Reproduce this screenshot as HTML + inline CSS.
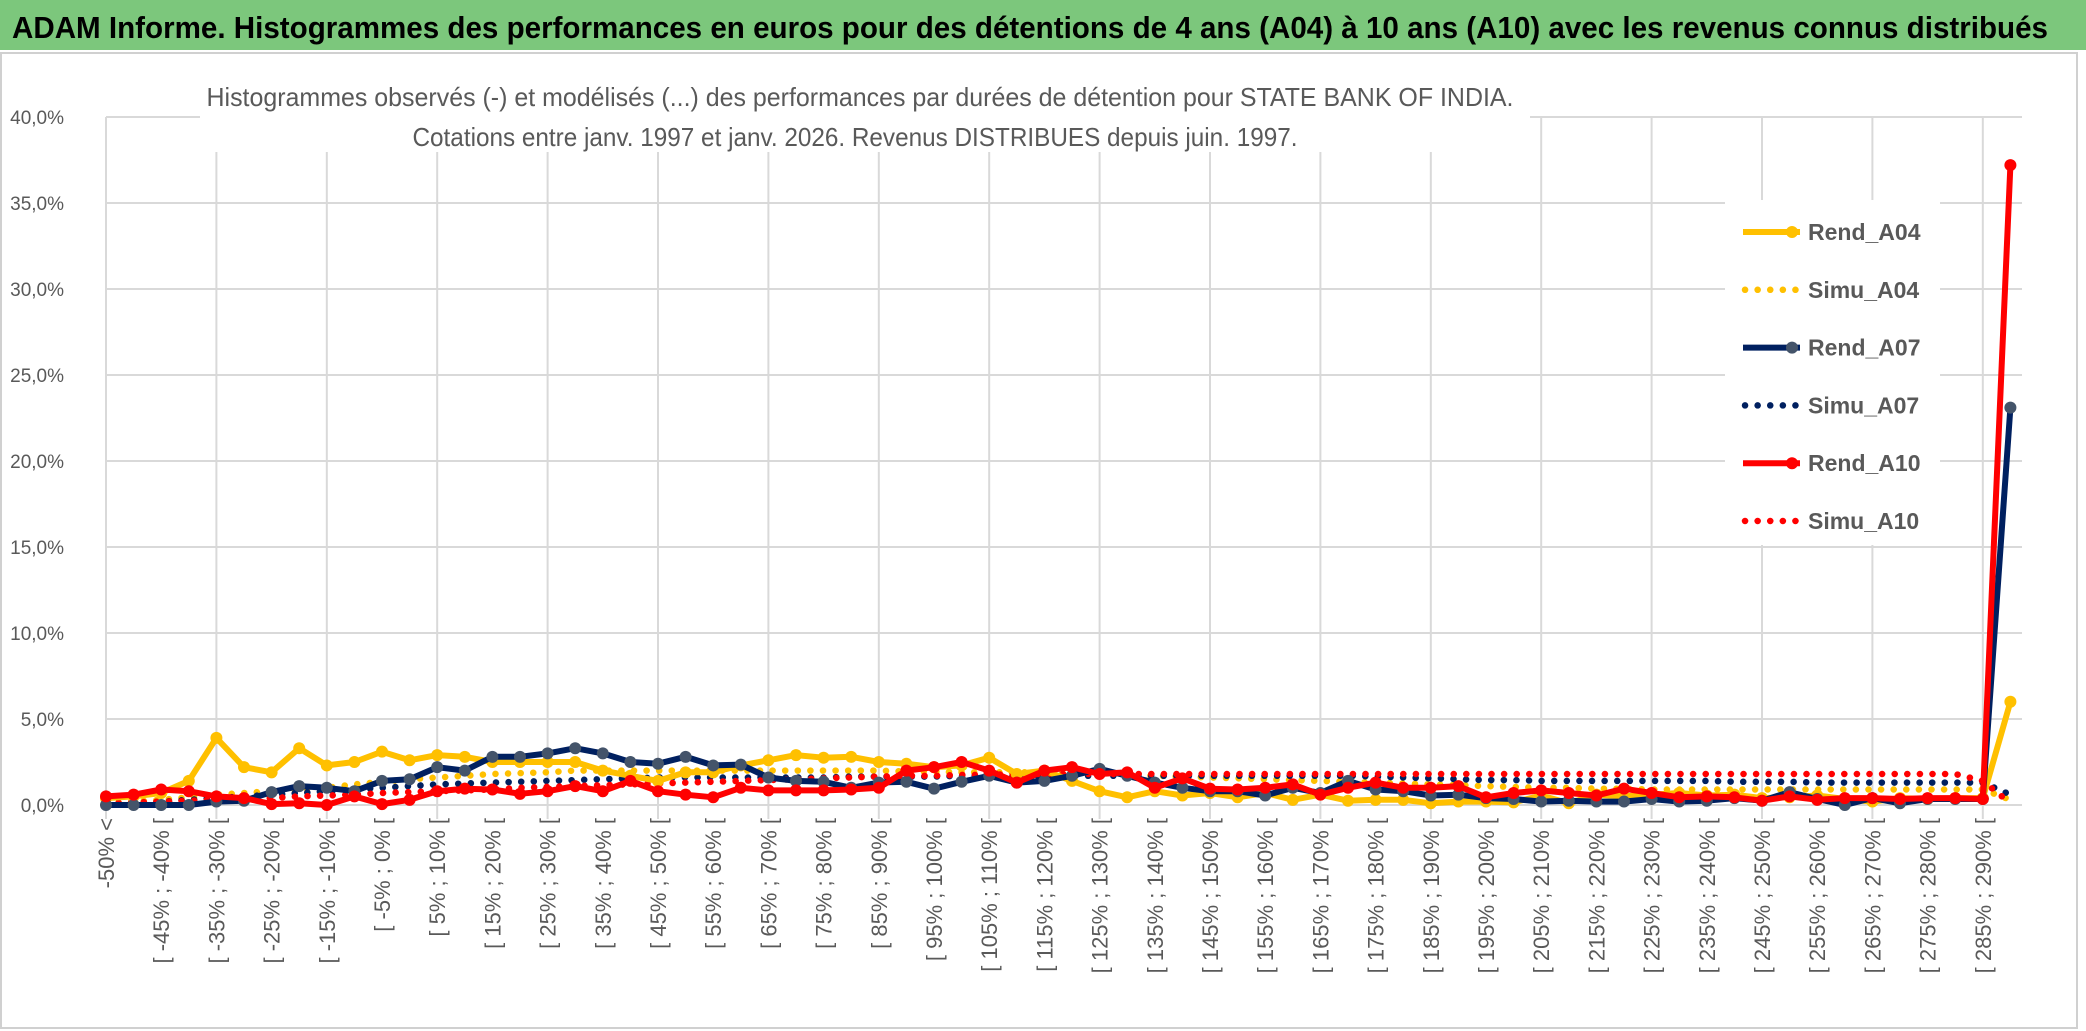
<!DOCTYPE html>
<html><head><meta charset="utf-8"><style>
html,body{margin:0;padding:0;background:#fff;}
svg{display:block;font-family:"Liberation Sans",sans-serif;}
</style></head><body>
<svg id="chart" width="2086" height="1031" viewBox="0 0 2086 1031">
<rect x="0" y="0" width="2086" height="1031" fill="#fff"/>
<rect x="0" y="0" width="2086" height="50" fill="#7cc77c"/>
<text x="12" y="38" font-size="31" font-weight="bold" fill="#000" textLength="2036" lengthAdjust="spacingAndGlyphs">ADAM Informe. Histogrammes des performances en euros pour des détentions de 4 ans (A04) à 10 ans (A10) avec les revenus connus distribués</text>
<rect x="1" y="53" width="2076" height="975" fill="none" stroke="#d0d0d0" stroke-width="2"/>
<g id="grid"></g>
<rect x="200" y="78" width="1330" height="74" fill="#fff"/>
<text x="860" y="106" font-size="26" fill="#595959" text-anchor="middle" textLength="1307" lengthAdjust="spacingAndGlyphs">Histogrammes observés (-) et modélisés (...) des performances par durées de détention pour STATE BANK OF INDIA.</text>
<text x="855" y="146" font-size="26" fill="#595959" text-anchor="middle" textLength="885" lengthAdjust="spacingAndGlyphs">Cotations entre janv. 1997 et janv. 2026. Revenus DISTRIBUES depuis juin. 1997.</text>
<g id="yticks"></g>
<g id="xticks"></g>
<g id="series"></g>
<rect x="1725" y="200" width="215" height="345" fill="#fff"/>
<g id="legend"></g>
</svg>
<script>
const yTicks = [0,5,10,15,20,25,30,35,40];
const yTickLabels = ["0,0%","5,0%","10,0%","15,0%","20,0%","25,0%","30,0%","35,0%","40,0%"];
const binStarts = [];
for (let k = 0; k < 70; k++) binStarts.push(-55 + 5 * k);
const rendA04 = [0.4,0.5,0.7,1.4,3.9,2.2,1.9,3.3,2.3,2.5,3.1,2.6,2.9,2.8,2.5,2.5,2.5,2.5,2.0,1.7,1.4,1.9,1.9,2.3,2.6,2.9,2.75,2.8,2.5,2.4,2.2,2.3,2.75,1.8,2.0,1.4,0.8,0.45,0.8,0.55,0.7,0.45,0.7,0.3,0.6,0.25,0.3,0.3,0.1,0.2,0.2,0.15,0.55,0.1,0.6,0.5,0.6,0.7,0.55,0.6,0.4,0.45,0.55,0.35,0.2,0.4,0.35,0.4,0.4,6.0];
const simuA04 = [0.1,0.2,0.3,0.45,0.6,0.7,0.8,0.9,1.0,1.2,1.35,1.5,1.6,1.7,1.8,1.85,1.9,2.0,2.0,2.0,2.0,2.0,2.0,2.0,2.0,2.0,2.0,2.0,2.0,1.95,1.95,1.9,1.9,1.9,1.9,1.85,1.8,1.75,1.7,1.65,1.6,1.55,1.5,1.45,1.4,1.35,1.3,1.25,1.2,1.15,1.1,1.05,1.0,1.0,0.95,0.95,0.9,0.9,0.9,0.9,0.9,0.9,0.9,0.9,0.9,0.9,0.9,0.9,0.9,0.3];
const rendA07 = [0,0,0,0,0.2,0.25,0.75,1.1,1.0,0.8,1.4,1.5,2.2,2.0,2.8,2.8,3.0,3.3,3.0,2.5,2.4,2.8,2.3,2.35,1.6,1.4,1.35,1.0,1.3,1.35,0.95,1.35,1.7,1.3,1.4,1.7,2.1,1.7,1.3,1.0,0.8,0.8,0.55,1.0,0.7,1.4,0.9,0.8,0.55,0.6,0.4,0.35,0.2,0.25,0.2,0.2,0.35,0.2,0.25,0.4,0.25,0.75,0.35,0.0,0.4,0.1,0.35,0.35,0.35,23.1];
const simuA07 = [0.05,0.1,0.2,0.3,0.4,0.5,0.6,0.7,0.8,0.9,1.0,1.1,1.2,1.25,1.3,1.35,1.4,1.45,1.5,1.55,1.6,1.6,1.6,1.6,1.6,1.6,1.6,1.65,1.65,1.65,1.65,1.7,1.7,1.7,1.7,1.7,1.7,1.7,1.7,1.7,1.7,1.7,1.7,1.7,1.7,1.7,1.65,1.6,1.55,1.5,1.45,1.45,1.4,1.4,1.4,1.4,1.4,1.4,1.4,1.35,1.35,1.35,1.3,1.3,1.3,1.3,1.3,1.3,1.3,0.6];
const rendA10 = [0.5,0.6,0.9,0.8,0.5,0.4,0.05,0.1,0.0,0.5,0.05,0.3,0.8,0.95,0.9,0.65,0.8,1.1,0.8,1.4,0.8,0.6,0.45,1.0,0.85,0.85,0.85,0.9,1.0,2.0,2.2,2.5,2.0,1.3,2.0,2.2,1.8,1.9,1.0,1.55,0.95,0.9,1.0,1.2,0.6,1.0,1.3,1.0,1.0,1.1,0.45,0.7,0.85,0.7,0.55,0.95,0.7,0.45,0.5,0.45,0.25,0.5,0.3,0.4,0.4,0.35,0.4,0.4,0.35,37.2];
const simuA10 = [0.1,0.15,0.2,0.25,0.3,0.35,0.4,0.5,0.55,0.6,0.7,0.75,0.8,0.85,0.9,1.0,1.05,1.1,1.15,1.2,1.25,1.3,1.35,1.4,1.45,1.5,1.55,1.6,1.65,1.7,1.7,1.75,1.75,1.8,1.8,1.8,1.8,1.8,1.8,1.8,1.8,1.8,1.8,1.8,1.8,1.8,1.8,1.8,1.8,1.8,1.8,1.8,1.8,1.8,1.8,1.8,1.8,1.8,1.8,1.8,1.8,1.8,1.8,1.8,1.8,1.8,1.8,1.8,1.4,0.1];

const NS = "http://www.w3.org/2000/svg";
const X0 = 106, DX = 27.6, Y0 = 805, PY = 17.2;
function xs(i){ return X0 + DX * i; }
function ys(v){ return Y0 - PY * v; }
function mk(tag, attrs, parent){ const e = document.createElementNS(NS, tag); for (const k in attrs) e.setAttribute(k, attrs[k]); parent.appendChild(e); return e; }

const grid = document.getElementById('grid');
yTicks.forEach(function(t){
  const l = mk('line', {x1: X0, x2: 2022, y1: ys(t), y2: ys(t), stroke: '#d9d9d9', 'stroke-width': 2}, grid);
  
  
});
for (let i = 0; i < binStarts.length; i += 4) {
  const l = mk('line', {x1: xs(i), x2: xs(i), y1: ys(40), y2: Y0 + 14, stroke: '#d9d9d9', 'stroke-width': 2}, grid);
  
  
}

const yg = document.getElementById('yticks');
yTicks.forEach(function(t, j){
  const tx = mk('text', {x: 64, y: ys(t) + 7, 'font-size': 19, fill: '#595959', 'text-anchor': 'end'}, yg);
  tx.textContent = yTickLabels[j];
  
  
});

const xg = document.getElementById('xticks');
for (let i = 0; i < binStarts.length - 1; i += 2) {
  const a = binStarts[i];
  const lab = i === 0 ? '-50% <' : '[ ' + a + '% ; ' + (a + 5) + '% [';
  const x = xs(i) + 8, y = 818;
  const tx = mk('text', {x: x, y: y, 'font-size': 22, fill: '#595959', 'text-anchor': 'end', transform: 'rotate(-90 ' + x + ' ' + y + ')'}, xg);
  tx.textContent = lab;
  
  
}

const sg = document.getElementById('series');
function pts(arr){ return arr.map(function(v, i){ return xs(i).toFixed(1) + ',' + ys(v).toFixed(1); }).join(' '); }
function dotted(arr, color, name){
  const p = mk('polyline', {points: pts(arr), fill: 'none', stroke: color, 'stroke-width': 6.5, 'stroke-linecap': 'round', 'stroke-dasharray': '0.1 12.5'}, sg);
  
  
}
function solid(arr, color, mcolor, name){
  const g = mk('g', {}, sg);
  
  
  mk('polyline', {points: pts(arr), fill: 'none', stroke: color, 'stroke-width': 6, 'stroke-linejoin': 'round'}, g);
  arr.forEach(function(v, i){
    const c = mk('circle', {cx: xs(i), cy: ys(v), r: 6, fill: mcolor}, g);
    
    
  });
}
dotted(simuA04, '#ffc000', 'simu-a04-line');
dotted(simuA07, '#002060', 'simu-a07-line');
dotted(simuA10, '#ff0000', 'simu-a10-line');
solid(rendA04, '#ffc000', '#ffc000', 'rend-a04-line');
solid(rendA07, '#002060', '#44546a', 'rend-a07-line');
solid(rendA10, '#ff0000', '#ff0000', 'rend-a10-line');

const legendItems = [
  ['Rend_A04', '#ffc000', '#ffc000', false],
  ['Simu_A04', '#ffc000', '#ffc000', true],
  ['Rend_A07', '#002060', '#44546a', false],
  ['Simu_A07', '#002060', '#002060', true],
  ['Rend_A10', '#ff0000', '#ff0000', false],
  ['Simu_A10', '#ff0000', '#ff0000', true]
];
const lg = document.getElementById('legend');
legendItems.forEach(function(it, j){
  const y = 232 + j * 57.8;
  const g = mk('g', {}, lg);
  
  
  if (it[3]) {
    mk('line', {x1: 1745, x2: 1800, y1: y, y2: y, stroke: it[1], 'stroke-width': 6.5, 'stroke-linecap': 'round', 'stroke-dasharray': '0.1 12.5'}, g);
  } else {
    mk('line', {x1: 1743, x2: 1800, y1: y, y2: y, stroke: it[1], 'stroke-width': 6}, g);
    mk('circle', {cx: 1792, cy: y, r: 6, fill: it[2]}, g);
  }
  const t = mk('text', {x: 1808, y: y + 8, 'font-size': 23, 'font-weight': 'bold', fill: '#595959'}, g);
  t.textContent = it[0];
});
</script>
</body></html>
